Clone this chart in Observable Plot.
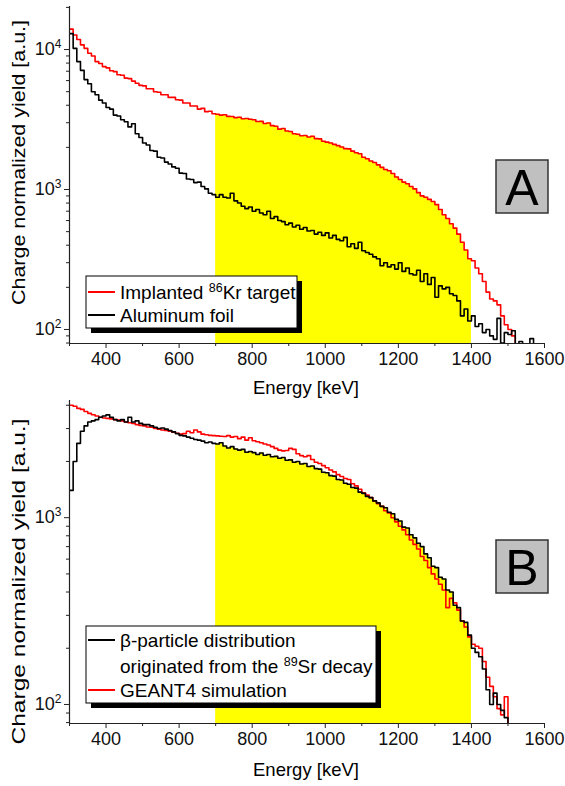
<!DOCTYPE html>
<html><head><meta charset="utf-8">
<script src="https://cdn.jsdelivr.net/npm/d3@7"></script>
<script src="https://cdn.jsdelivr.net/npm/@observablehq/plot@0.6"></script>
<style>
body{margin:0;background:#fff;}
#wrap{position:relative;width:565px;height:786px;font-family:"Liberation Sans",Arial,sans-serif;}
#wrap svg{position:absolute;left:0;}
</style></head><body><div id="wrap"></div>
<script>
// ---------- data ----------
const binStart = 300, binWidth = 10;
const highlight = [700, 1400];
const xMajorTicks = [400, 600, 800, 1000, 1200, 1400, 1600];
const xMinorTicks = [300, 500, 700, 900, 1100, 1300, 1500];
const yMajorTicks = [100, 1000, 10000];
const yMinorTicks = [80, 90, 200, 300, 400, 500, 600, 700, 800, 900, 2000, 3000, 4000, 5000, 6000, 7000, 8000, 9000, 20000];
const yDomainA = [79.4, 20300];
const yDomainB = [79.1, 4240];

// Panel A: implanted 86Kr target (red), aluminum foil (black)
const redA = [
 14000,12700,11800,10800,10200,9400,9000,8200,7950,7550,
 7400,7050,6950,6600,6550,6250,6200,5950,5750,5550,
 5500,5250,5250,5000,4950,4750,4750,4550,4550,4380,
 4350,4150,4150,3950,3950,3750,3800,3600,3620,3480,
 3450,3400,3420,3330,3320,3260,3280,3200,3220,3180,
 3150,3060,3070,2960,2990,2860,2830,2700,2730,2620,
 2600,2500,2480,2420,2430,2370,2400,2310,2300,2210,
 2180,2150,2100,2060,2010,1960,1950,1880,1830,1800,
 1700,1660,1600,1560,1500,1440,1390,1360,1300,1230,
 1180,1130,1100,1050,1010,950,900,880,850,820,
 780,720,660,620,570,530,480,420,370,320,
 310,275,250,220,185,165,160,150,125,108,
 100,90,75
];
const blackA = [
 13000,10200,8200,7100,6100,5700,5000,4750,4350,4150,
 3850,3750,3400,3350,3150,3050,2800,2950,2500,2350,
 2150,2080,1900,1880,1700,1680,1570,1520,1450,1420,
 1310,1300,1190,1180,1120,1130,1050,1010,940,920,
 880,920,880,870,940,830,800,760,730,750,
 700,720,680,660,700,620,640,600,590,560,
 575,540,555,520,535,505,510,480,495,470,
 490,450,470,440,430,455,390,410,380,420,
 365,355,345,330,320,285,300,280,290,270,
 300,260,275,250,245,265,220,250,210,235,
 170,205,195,200,180,175,160,125,140,115,
 125,105,110,95,100,90,85,120,80,95,
 92,98,60,82,60,60,86,60
];
// Panel B: beta-particle distribution from 89Sr decay (black), GEANT4 simulation (red)
const redB = [
 4000,3950,3850,3800,3700,3620,3560,3500,3450,3420,
 3400,3380,3350,3330,3300,3250,3220,3200,3150,3120,
 3100,3060,3050,3000,2980,2950,2930,2900,2870,2830,
 2800,2820,2900,2850,2950,2880,2800,2780,2760,2750,
 2740,2730,2720,2750,2700,2720,2650,2700,2600,2680,
 2580,2550,2520,2480,2450,2400,2350,2300,2280,2290,
 2350,2320,2200,2150,2120,2150,2050,1980,1950,1900,
 1850,1800,1760,1700,1660,1620,1600,1520,1480,1420,
 1360,1320,1280,1230,1190,1150,1090,1060,1000,950,
 900,860,810,760,720,680,620,590,540,500,
 470,440,410,330,370,350,320,280,260,230,
 210,205,200,170,140,125,110,95,88,110,
 70
];
const blackB = [
 1400,2000,2500,2900,3100,3250,3300,3350,3450,3500,
 3550,3450,3350,3300,3350,3250,3450,3250,3300,3200,
 3150,3150,3100,3050,3000,3020,2980,2930,2880,2820,
 2760,2740,2700,2660,2620,2600,2570,2520,2540,2500,
 2480,2520,2420,2360,2400,2330,2300,2320,2240,2260,
 2230,2180,2220,2160,2180,2120,2130,2080,2100,2030,
 2040,1980,2000,1940,1950,1880,1890,1830,1820,1750,
 1740,1680,1670,1600,1590,1530,1510,1450,1440,1370,
 1350,1300,1280,1230,1200,1150,1130,1070,1050,980,
 960,890,880,810,780,730,700,640,610,550,
 540,480,470,410,400,340,330,280,275,235,
 200,190,180,155,120,100,115,100,93,85,
 70
];

// ---------- helpers ----------
function steps(vals) {
  const pts = vals.map((v, i) => ({x: binStart + i * binWidth, y: v}));
  pts.push({x: binStart + vals.length * binWidth, y: vals[vals.length - 1]});
  return pts;
}
function band(vals) {
  const pts = vals.map((v, i) => ({x: binStart + i * binWidth, y: v}))
    .filter(d => d.x >= highlight[0] && d.x < highlight[1]);
  pts.push({x: highlight[1], y: pts[pts.length - 1].y});
  return pts;
}
const FONT = '"Liberation Sans", Arial, sans-serif';

function panel(red, black, fillVals, yDomain, height, mt, mb) {
  const minors = yMinorTicks.filter(t => t >= yDomain[0] && t <= yDomain[1]);
  const majors = yMajorTicks.filter(t => t >= yDomain[0] && t <= yDomain[1]);
  return Plot.plot({
    width: 565, height, marginLeft: 69, marginRight: 21, marginTop: mt, marginBottom: mb,
    style: {fontFamily: FONT, fontSize: "18px", background: "transparent", color: "#111", overflow: "visible"},
    x: {domain: [300, 1600]},
    y: {type: "log", domain: yDomain},
    marks: [
      Plot.areaY(band(fillVals), {x: "x", y: "y", y1: yDomain[0], curve: "step-after", fill: "#ffff00", clip: true}),
      Plot.line(steps(red), {x: "x", y: "y", curve: "step-after", stroke: "#ff0000", strokeWidth: 1.6, clip: true}),
      Plot.line(steps(black), {x: "x", y: "y", curve: "step-after", stroke: "#000", strokeWidth: 1.6, clip: true}),
      Plot.ruleX([300], {stroke: "#222", strokeWidth: 1.2}),
      Plot.ruleY([yDomain[0]], {stroke: "#222", strokeWidth: 1.2}),
      Plot.axisX({ticks: xMajorTicks, tickSize: 5, tickPadding: 4, fontSize: 18, label: null, tickFormat: d => String(d), stroke: "#222"}),
      Plot.axisX({ticks: xMinorTicks, tickSize: 3, label: null, tickFormat: () => "", stroke: "#222"}),
      Plot.axisY({ticks: majors, tickSize: 5, tickPadding: 3, fontSize: 18, label: null, tickFormat: d => "10^" + Math.round(Math.log10(d)), stroke: "#222"}),
      Plot.axisY({ticks: minors, tickSize: 3, label: null, tickFormat: () => "", stroke: "#222"})
    ]
  });
}

function superscriptTicks(svg) {
  d3.select(svg).selectAll("text").each(function() {
    const t = this.textContent;
    const m = /^10\^(\d)$/.exec(t);
    if (!m) return;
    const s = d3.select(this);
    s.text(null);
    s.append("tspan").text("10");
    s.append("tspan").attr("dy", "-0.6em").attr("font-size", "12px").text(m[1]);
  });
}

const wrap = document.getElementById("wrap");
const A = panel(redA, blackA, redA, yDomainA, 395, 6, 52);
A.style.top = "0px";
superscriptTicks(A);
wrap.appendChild(A);
const B = panel(redB, blackB, blackB, yDomainB, 391, 5, 63);
B.style.top = "395px";
superscriptTicks(B);
wrap.appendChild(B);

// ---------- overlay: labels, legends, panel tags ----------
const ov = d3.select(wrap).append("svg")
  .attr("width", 565).attr("height", 786)
  .style("top", "0px").style("pointer-events", "none")
  .attr("font-family", FONT).attr("fill", "#000");

function yLabel(cx, cy, len) {
  ov.append("text").attr("transform", `translate(${cx},${cy}) rotate(-90)`)
    .attr("text-anchor", "middle").attr("font-size", 18)
    .attr("textLength", len).attr("lengthAdjust", "spacingAndGlyphs")
    .text("Charge normalized yield [a.u.]");
}
yLabel(25, 162.5, 285);
yLabel(25, 581.5, 326);
ov.append("text").attr("x", 306).attr("y", 394).attr("text-anchor", "middle").attr("font-size", 18.5).text("Energy [keV]");
ov.append("text").attr("x", 306).attr("y", 776).attr("text-anchor", "middle").attr("font-size", 18.5).text("Energy [keV]");

function tag(x, y, letter) {
  ov.append("rect").attr("x", x).attr("y", y).attr("width", 52).attr("height", 53)
    .attr("fill", "#c0c0c0").attr("stroke", "#333").attr("stroke-width", 1.5);
  ov.append("text").attr("x", x + 26).attr("y", y + 45).attr("text-anchor", "middle")
    .attr("font-size", 50).text(letter);
}
tag(496, 160, "A");
tag(496, 540, "B");

function legendBox(x, y, w, h) {
  ov.append("rect").attr("x", x + 5).attr("y", y + 5).attr("width", w).attr("height", h).attr("fill", "#000");
  ov.append("rect").attr("x", x).attr("y", y).attr("width", w).attr("height", h)
    .attr("fill", "#fff").attr("stroke", "#000").attr("stroke-width", 1);
}
function swatch(y, color) {
  ov.append("line").attr("x1", 88).attr("x2", 115).attr("y1", y).attr("y2", y)
    .attr("stroke", color).attr("stroke-width", 2);
}
function legendText(y, parts) {
  const t = ov.append("text").attr("x", 120).attr("y", y).attr("font-size", 19);
  parts.forEach(p => {
    if (p.sup) t.append("tspan").attr("dy", -7).attr("font-size", 12.5).text(p.sup);
    else t.append("tspan").attr("dy", p.after ? 7 : 0).text(p.t);
  });
}
legendBox(86, 276, 211, 52);
swatch(292, "#ff0000");
legendText(298.5, [{t: "Implanted "}, {sup: "86"}, {t: "Kr target", after: true}]);
swatch(315, "#000");
legendText(322, [{t: "Aluminum foil"}]);

legendBox(86, 626, 290, 77);
swatch(640, "#000");
legendText(647, [{t: "β-particle distribution"}]);
legendText(673, [{t: "originated from the "}, {sup: "89"}, {t: "Sr decay", after: true}]);
swatch(690, "#ff0000");
legendText(697, [{t: "GEANT4 simulation"}]);
</script></body></html>
